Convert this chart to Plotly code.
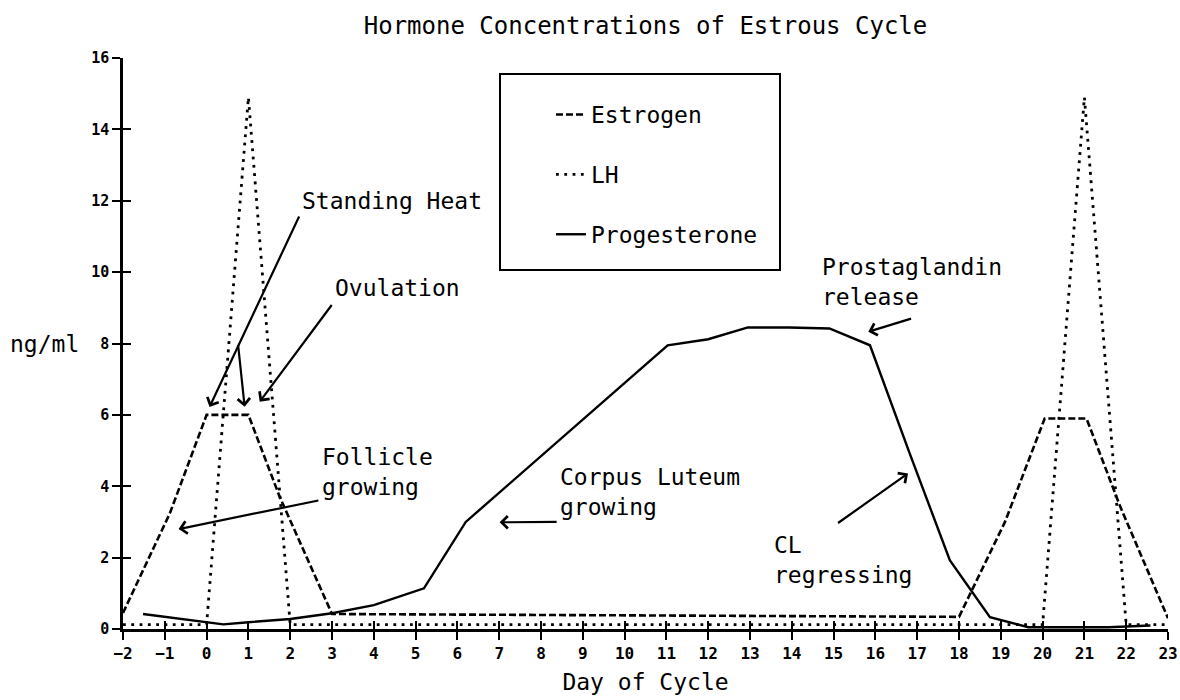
import plotly.graph_objects as go

# ---------------- data ----------------
day_ticks = list(range(-2, 24))
conc_ticks = list(range(0, 17, 2))

estrogen_day = [-2, -0.88, 0, 1, 1.75, 3, 18, 19.1, 20.05, 21.05, 21.85, 23]
estrogen_val = [0.45, 3.24, 6.0, 6.0, 3.7, 0.42, 0.34, 3.0, 5.9, 5.9, 3.45, 0.3]

lh_day = [-2, 0, 1, 2, 20, 21, 22, 23]
lh_val = [0.12, 0.12, 14.9, 0.12, 0.12, 14.9, 0.12, 0.12]

prog_day = [-1.52, 0, 0.4, 1, 2, 3, 4, 5.2, 6.2, 11.03, 12.0, 12.95, 13.94, 14.9,
            15.87, 16.82, 17.78, 18.74, 19.66, 21.58, 22.58]
prog_val = [0.42, 0.19, 0.13, 0.19, 0.28, 0.44, 0.67, 1.14, 3.0, 7.95, 8.12, 8.45, 8.45, 8.42,
            7.95, 4.92, 1.93, 0.33, 0.05, 0.05, 0.1]

# annotation texts: (text, day, conc)
labels = [
    ("Standing Heat", 2.23, 12.0),
    ("Ovulation", 3.02, 9.55),
    ("Follicle<br>growing", 2.71, 4.4),
    ("Corpus Luteum<br>growing", 8.41, 3.84),
    ("Prostaglandin<br>release", 14.67, 9.72),
    ("CL<br>regressing", 13.52, 1.93),
]
# arrows: (tail_day, tail_conc, head_day, head_conc)
arrows = [
    (2.23, 11.6, 0.07, 6.22),
    (0.75, 8.0, 0.91, 6.23),
    (3.02, 9.12, 1.27, 6.37),
    (2.71, 3.61, -0.67, 2.8),
    (8.41, 3.0, 7.01, 2.99),
    (16.89, 8.71, 15.83, 8.33),
    (15.07, 2.94, 16.78, 4.36),
]

FONT = "DejaVu Sans Mono"

fig = go.Figure()
fig.add_trace(go.Scatter(x=estrogen_day, y=estrogen_val, mode="lines", name="Estrogen",
                         legendgroup="e",
                         line=dict(color="black", width=2.6, dash="7px,3px")))
fig.add_trace(go.Scatter(x=lh_day, y=lh_val, mode="lines", name="LH", legendgroup="l",
                         line=dict(color="black", width=2.8, dash="2.8px,5.5px")))
fig.add_trace(go.Scatter(x=prog_day, y=prog_val, mode="lines", name="Progesterone",
                         legendgroup="p",
                         line=dict(color="black", width=2.4)))
# empty trace to activate the overlay axes (crossing ticks)
fig.add_trace(go.Scatter(x=[], y=[], xaxis="x2", yaxis="y2", showlegend=False,
                         hoverinfo="skip"))

annotations = []
for text, xd, yd in labels:
    annotations.append(dict(text=text, x=xd, y=yd, xref="x", yref="y", showarrow=False,
                            xanchor="left", yanchor="middle", align="left",
                            font=dict(family=FONT, size=23, color="black")))
for tx, ty, hx, hy in arrows:
    annotations.append(dict(text="", x=hx, y=hy, xref="x", yref="y",
                            ax=tx, ay=ty, axref="x", ayref="y", showarrow=True,
                            arrowhead=4, arrowsize=1.1, arrowwidth=2.2, arrowcolor="black",
                            standoff=0, startstandoff=0))
annotations.append(dict(text="ng/ml", x=-0.11, y=8, xref="paper", yref="y", showarrow=False,
                        xanchor="left", yanchor="middle",
                        font=dict(family=FONT, size=23, color="black")))

axis_common = dict(showgrid=False, zeroline=False, color="black", automargin=False)
fig.update_layout(
    width=1180, height=700,
    margin=dict(l=123, r=12, t=58, b=71, autoexpand=False),
    paper_bgcolor="white", plot_bgcolor="white",
    title=dict(text="Hormone Concentrations of Estrous Cycle", x=0.5, xref="paper",
               xanchor="center", y=1 - 26 / 700, yref="container", yanchor="middle",
               font=dict(family=FONT, size=24, color="black")),
    xaxis=dict(range=[-2, 23], tickmode="array", tickvals=day_ticks,
               ticks="outside", ticklen=8, tickwidth=2.4, tickcolor="black",
               showline=True, linewidth=2.6, linecolor="black",
               tickfont=dict(family=FONT, size=16, color="black", weight="bold"),
               title=dict(text="Day of Cycle", standoff=12,
                          font=dict(family=FONT, size=23, color="black")),
               **axis_common),
    yaxis=dict(range=[0, 16], tickmode="array", tickvals=conc_ticks,
               ticks="outside", ticklen=8, tickwidth=2.4, tickcolor="black",
               showline=True, linewidth=2.6, linecolor="black",
               tickfont=dict(family=FONT, size=15, color="black", weight="bold"),
               **axis_common),
    xaxis2=dict(range=[-2, 23], overlaying="x", anchor="y", side="bottom",
                tickmode="array", tickvals=day_ticks, ticks="inside", ticklen=8,
                tickwidth=2.4, tickcolor="black", showticklabels=False, showline=False,
                **axis_common),
    yaxis2=dict(range=[0, 16], overlaying="y", anchor="x", side="left",
                tickmode="array", tickvals=conc_ticks, ticks="inside", ticklen=8,
                tickwidth=2.4, tickcolor="black", showticklabels=False, showline=False,
                **axis_common),
    showlegend=True,
    legend=dict(x=(551 - 123) / 1045, y=(629 - 93) / 571, xanchor="left", yanchor="top",
                bgcolor="rgba(0,0,0,0)", borderwidth=0, traceorder="grouped",
                tracegroupgap=27, font=dict(family=FONT, size=23, color="black")),
    shapes=[dict(type="rect", xref="paper", yref="paper",
                 x0=(500 - 123) / 1045, x1=(780 - 123) / 1045,
                 y0=(629 - 270) / 571, y1=(629 - 74) / 571,
                 line=dict(color="black", width=2))],
    annotations=annotations,
)

fig.write_html("out.html", config={"displayModeBar": False},
               post_script="document.body.style.margin='0';document.body.style.overflow='hidden';")
